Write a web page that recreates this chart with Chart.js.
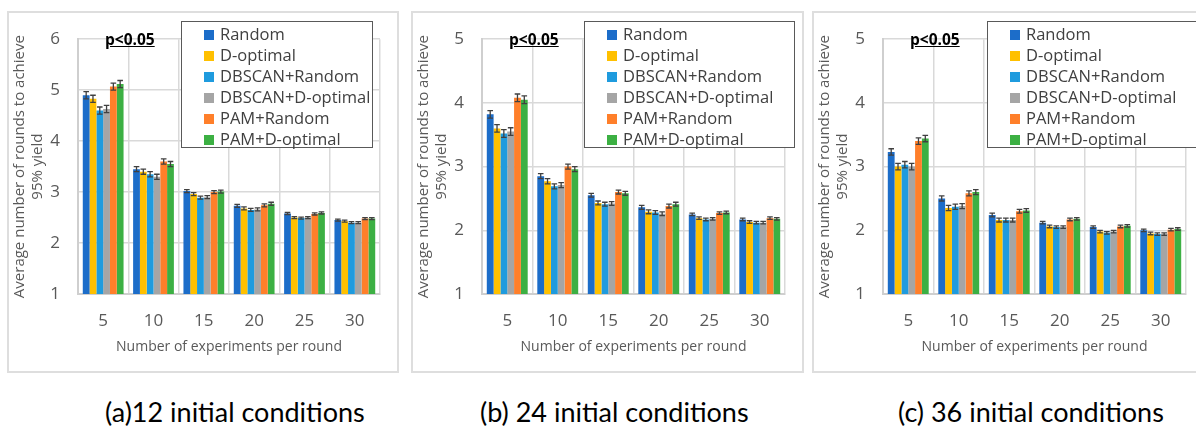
<!DOCTYPE html>
<html>
<head>
<meta charset="utf-8">
<script src="https://cdn.jsdelivr.net/npm/chart.js@4.4.1/dist/chart.umd.min.js"></script>
<style>
  html, body { margin: 0; padding: 0; background: #fff; }
  body { width: 1196px; height: 430px; position: relative; overflow: hidden; font-family: "Open Sans", sans-serif; }
  .panel { position: absolute; border: 2px solid #dedede; box-sizing: border-box; }
  .panel canvas { position: absolute; left: -2px; top: -2px; }
  .legend { position: absolute; background: #fff; border: 1px solid #595959; box-sizing: border-box; padding-top: 1px; }
  .legend div { height: 21px; line-height: 21px; font-size: 16.5px; color: #404040; white-space: nowrap; padding-left: 22px; }
  .legend span { display: inline-block; width: 10px; height: 10px; margin-right: 6px; }
  .pval { position: absolute; font-size: 15.5px; font-weight: bold; text-decoration: underline; color: #000; }
  .caption { position: absolute; top: 395px; font-size: 27px; color: #000; font-family: "Lato", sans-serif; }
</style>
</head>
<body>
<div class="panel" style="left:7px;top:11px;width:392px;height:362px"><canvas id="chartA" width="392" height="362"></canvas></div>
<div class="panel" style="left:411px;top:11px;width:393px;height:362px"><canvas id="chartB" width="393" height="362"></canvas></div>
<div class="panel" style="left:812px;top:11px;width:393px;height:362px"><canvas id="chartC" width="393" height="362"></canvas></div>
<div id="overlays"></div>
<div class="caption" style="left:105px">(a)12 initial conditions</div>
<div class="caption" style="left:480px">(b) 24 initial conditions</div>
<div class="caption" style="left:898px">(c) 36 initial conditions</div>
<script>
const categories = ['5', '10', '15', '20', '25', '30'];
const methods = ['Random', 'D-optimal', 'DBSCAN+Random', 'DBSCAN+D-optimal', 'PAM+Random', 'PAM+D-optimal'];
const colors = ['#1c6dc9', '#ffc000', '#1f9bde', '#a5a5a5', '#ff7f2a', '#3cb043'];

// panel (a) 12 initial conditions, one array per method
const a12Random   = [4.90, 3.45, 3.02, 2.73, 2.58, 2.45];
const a12Dopt     = [4.83, 3.40, 2.96, 2.68, 2.50, 2.43];
const a12DbRandom = [4.60, 3.35, 2.89, 2.65, 2.49, 2.40];
const a12DbDopt   = [4.63, 3.30, 2.90, 2.66, 2.50, 2.40];
const a12PamRand  = [5.07, 3.60, 3.00, 2.74, 2.57, 2.48];
const a12PamDopt  = [5.12, 3.55, 3.01, 2.77, 2.59, 2.48];
const a12Err      = [0.07, 0.05, 0.03, 0.03, 0.02, 0.02];

// panel (b) 24 initial conditions
const b24Random   = [3.82, 2.85, 2.55, 2.36, 2.25, 2.17];
const b24Dopt     = [3.60, 2.77, 2.43, 2.29, 2.19, 2.13];
const b24DbRandom = [3.52, 2.69, 2.41, 2.28, 2.17, 2.12];
const b24DbDopt   = [3.55, 2.71, 2.42, 2.26, 2.18, 2.12];
const b24PamRand  = [4.08, 3.00, 2.60, 2.38, 2.27, 2.19];
const b24PamDopt  = [4.05, 2.96, 2.58, 2.41, 2.28, 2.18];
const b24Err      = [0.06, 0.04, 0.03, 0.03, 0.02, 0.02];

// panel (c) 36 initial conditions
const c36Random   = [3.23, 2.50, 2.24, 2.12, 2.05, 2.00];
const c36Dopt     = [3.00, 2.35, 2.16, 2.06, 1.98, 1.95];
const c36DbRandom = [3.03, 2.37, 2.16, 2.05, 1.96, 1.94];
const c36DbDopt   = [3.00, 2.38, 2.16, 2.05, 1.98, 1.94];
const c36PamRand  = [3.40, 2.58, 2.30, 2.17, 2.06, 2.01];
const c36PamDopt  = [3.44, 2.60, 2.31, 2.18, 2.07, 2.02];
const c36Err      = [0.05, 0.04, 0.03, 0.02, 0.02, 0.02];

const yTitle = ['Average number of rounds to achieve', '95% yield'];
const xTitle = 'Number of experiments per round';

const errorBars = {
    id: 'errorBars',
    afterDatasetsDraw(chart) {
        const ctx = chart.ctx;
        const yScale = chart.scales.y;
        ctx.save();
        ctx.strokeStyle = '#404040';
        ctx.lineWidth = 1.3;
        chart.data.datasets.forEach((ds, i) => {
            chart.getDatasetMeta(i).data.forEach((bar, j) => {
                const e = ds.errors[j];
                const top = yScale.getPixelForValue(ds.data[j] + e);
                const bot = yScale.getPixelForValue(ds.data[j] - e);
                const x = bar.x, w = 2.8;
                ctx.beginPath();
                ctx.moveTo(x, top); ctx.lineTo(x, bot);
                ctx.moveTo(x - w, top); ctx.lineTo(x + w, top);
                ctx.moveTo(x - w, bot); ctx.lineTo(x + w, bot);
                ctx.stroke();
            });
        });
        ctx.restore();
    }
};

function makeChart(id, series, err, yMax) {
    const ctx = document.getElementById(id).getContext('2d');
    return new Chart(ctx, {
        type: 'bar',
        data: {
            labels: categories,
            datasets: series.map((s, i) => ({
                label: methods[i],
                data: s,
                errors: err,
                backgroundColor: colors[i],
                borderWidth: 0,
                categoryPercentage: 0.81,
                barPercentage: 1.0
            }))
        },
        options: {
            responsive: false,
            animation: false,
            devicePixelRatio: 1,
            layout: { padding: { top: 16, right: 19, left: 0, bottom: 14 } },
            plugins: { legend: { display: false }, tooltip: { enabled: false } },
            scales: {
                x: {
                    grid: { color: '#d9d9d9', lineWidth: 1.5, drawTicks: false },
                    border: { color: '#cfcfcf', width: 2 },
                    ticks: { color: '#595959', font: { family: 'Open Sans', size: 17 }, padding: 17 },
                    title: { display: true, text: xTitle, color: '#595959', font: { family: 'Open Sans', size: 14 }, padding: { top: 4 } },
                    afterFit(scale) { scale.height = 65; }
                },
                y: {
                    min: 1, max: yMax,
                    grid: { color: '#d9d9d9', lineWidth: 1.5, drawTicks: false },
                    border: { color: '#cfcfcf', width: 2 },
                    ticks: { stepSize: 1, color: '#595959', font: { family: 'Open Sans', size: 17 }, padding: 18 },
                    title: { display: true, text: yTitle, color: '#595959', font: { family: 'Open Sans', size: 15 }, padding: { bottom: 0 } },
                    afterFit(scale) { scale.width = 71; }
                }
            }
        },
        plugins: [errorBars]
    });
}

const chartA = makeChart('chartA', [a12Random, a12Dopt, a12DbRandom, a12DbDopt, a12PamRand, a12PamDopt], a12Err, 6);
const chartB = makeChart('chartB', [b24Random, b24Dopt, b24DbRandom, b24DbDopt, b24PamRand, b24PamDopt], b24Err, 5);
const chartC = makeChart('chartC', [c36Random, c36Dopt, c36DbRandom, c36DbDopt, c36PamRand, c36PamDopt], c36Err, 5);

// legends and p-value labels, placed over each panel
const overlays = document.getElementById('overlays');
[[181, 192, 105], [584, 211, 509], [987, 215, 910]].forEach(([left, width, pLeft]) => {
    const box = document.createElement('div');
    box.className = 'legend';
    box.style.cssText = `left:${left}px;top:21px;width:${width}px;height:127px`;
    methods.forEach((m, i) => {
        const row = document.createElement('div');
        row.innerHTML = `<span style="background:${colors[i]}"></span>${m}`;
        box.appendChild(row);
    });
    overlays.appendChild(box);
    const p = document.createElement('div');
    p.className = 'pval';
    p.style.cssText = `left:${pLeft}px;top:28px`;
    p.textContent = 'p<0.05';
    overlays.appendChild(p);
});
</script>
</body>
</html>
